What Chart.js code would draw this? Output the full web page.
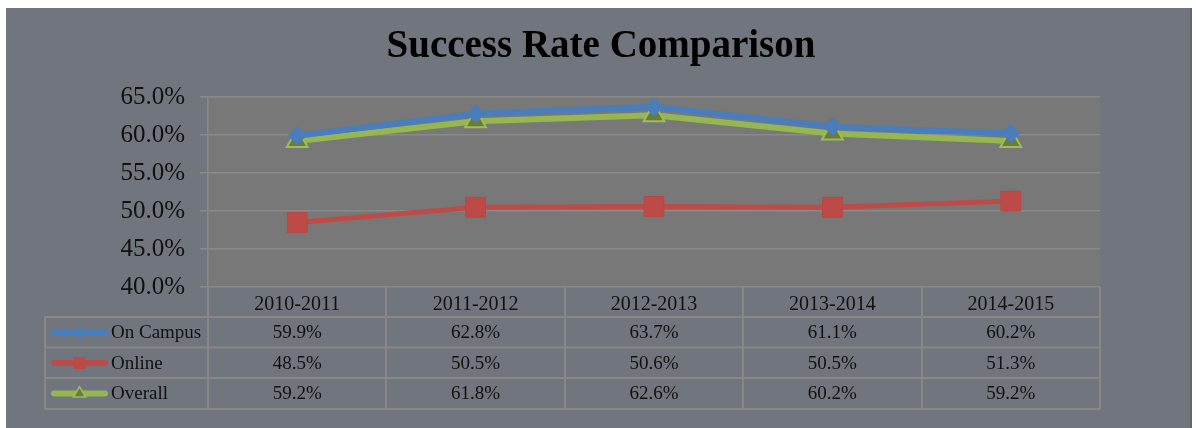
<!DOCTYPE html>
<html>
<head>
<meta charset="utf-8">
<script src="https://cdn.jsdelivr.net/npm/chart.js@4/dist/chart.umd.min.js"></script>
<style>
  html, body { margin: 0; padding: 0; background: #ffffff; }
  canvas { display: block; }
</style>
</head>
<body>
<canvas id="chart" width="1196" height="428"></canvas>
<script>
// Academic years shown along the category axis
const categories = ['2010-2011', '2011-2012', '2012-2013', '2013-2014', '2014-2015'];

// Success rates (percent) per delivery mode
const onCampus = [59.9, 62.8, 63.7, 61.1, 60.2];
const online   = [48.5, 50.5, 50.6, 50.5, 51.3];
const overall  = [59.2, 61.8, 62.6, 60.2, 59.2];

// Value axis range
const yMin = 40;
const yMax = 65;
const yStep = 5;

const seriesNames = ['On Campus', 'Online', 'Overall'];
const chartTitle = 'Success Rate Comparison';

const SERIF = "'Liberation Serif', 'Times New Roman', serif";
const GRID = '#8a8a8a';
const TABLE_LINE = '#878787';

const fmt = v => v.toFixed(1) + '%';

// Background panel, plot-area fill and the title centred on the panel
const panelPlugin = {
  id: 'panel',
  beforeDraw(chart) {
    const { ctx, chartArea: a, width, height } = chart;
    ctx.save();
    ctx.fillStyle = '#ffffff';
    ctx.fillRect(0, 0, width, height);
    ctx.fillStyle = '#71757d';
    ctx.fillRect(6, 8, 1186, height - 8);
    ctx.fillStyle = '#62666d';
    ctx.fillRect(1190, 8, 2, height - 8);
    ctx.fillStyle = '#787878';
    ctx.fillRect(a.left, a.top, a.right - a.left, a.bottom - a.top);

    ctx.fillStyle = '#000000';
    ctx.font = 'bold 39px ' + SERIF;
    ctx.textAlign = 'center';
    ctx.textBaseline = 'alphabetic';
    ctx.fillText(chartTitle, 601, 57);
    ctx.restore();
  }
};

function drawKeyMarker(ctx, style, x, y, ds) {
  ctx.save();
  ctx.fillStyle = ds.pointBackgroundColor;
  ctx.strokeStyle = ds.pointBorderColor;
  ctx.lineWidth = 1.5;
  ctx.beginPath();
  if (style === 'rectRot') {
    const r = 6;
    ctx.moveTo(x, y - r); ctx.lineTo(x + r, y); ctx.lineTo(x, y + r); ctx.lineTo(x - r, y);
    ctx.closePath(); ctx.fill();
  } else if (style === 'rect') {
    const s = 6;
    ctx.rect(x - s, y - s, 2 * s, 2 * s); ctx.fill();
  } else {
    const r = 7;
    ctx.moveTo(x, y - r);
    ctx.lineTo(x + r * 0.866, y + r * 0.5);
    ctx.lineTo(x - r * 0.866, y + r * 0.5);
    ctx.closePath(); ctx.fill(); ctx.stroke();
  }
  ctx.restore();
}

// Data table under the category axis, with a legend key per row
const tablePlugin = {
  id: 'dataTable',
  afterDraw(chart) {
    const { ctx, chartArea: a, scales } = chart;
    const xs = scales.x;
    const n = categories.length;
    const colW = (a.right - a.left) / n;
    const tableLeft = 45;
    const headerTop = a.bottom;
    const rowTops = [headerTop + 30, headerTop + 60.5, headerTop + 91];
    const tableBottom = headerTop + 122;

    ctx.save();
    ctx.strokeStyle = TABLE_LINE;
    ctx.lineWidth = 2;
    ctx.beginPath();
    for (let i = 0; i <= n; i++) {
      const x = Math.round(a.left + i * colW);
      ctx.moveTo(x, headerTop);
      ctx.lineTo(x, tableBottom);
    }
    ctx.moveTo(tableLeft, rowTops[0]);
    ctx.lineTo(tableLeft, tableBottom);
    [...rowTops, tableBottom].forEach(y => {
      ctx.moveTo(tableLeft, y);
      ctx.lineTo(a.right, y);
    });
    ctx.stroke();

    ctx.font = '19px ' + SERIF;
    ctx.fillStyle = '#111111';
    ctx.textBaseline = 'middle';
    chart.data.datasets.forEach((ds, r) => {
      const yMid = rowTops[r] + 15.5;
      ctx.save();
      ctx.strokeStyle = ds.borderColor;
      ctx.lineWidth = 6;
      ctx.lineCap = 'round';
      ctx.beginPath();
      ctx.moveTo(54, yMid);
      ctx.lineTo(105, yMid);
      ctx.stroke();
      ctx.restore();
      drawKeyMarker(ctx, ds.pointStyle, 79.5, yMid, ds);
      ctx.textAlign = 'left';
      ctx.fillText(ds.label, 111, yMid + 1);
      ctx.textAlign = 'center';
      ds.data.forEach((v, i) => {
        ctx.fillText(fmt(v), xs.getPixelForValue(i), yMid + 1);
      });
    });
    ctx.restore();
  }
};

new Chart(document.getElementById('chart'), {
  type: 'line',
  data: {
    labels: categories,
    datasets: [
      {
        label: seriesNames[0],
        data: onCampus,
        borderColor: '#4a7dbb',
        borderWidth: 6,
        pointStyle: 'rectRot',
        pointRadius: 9,
        pointBackgroundColor: '#4a7dbb',
        pointBorderColor: '#4a7dbb',
        pointBorderWidth: 1
      },
      {
        label: seriesNames[1],
        data: online,
        borderColor: '#bd4b48',
        borderWidth: 5,
        pointStyle: 'rect',
        pointRadius: 14,
        pointBackgroundColor: '#bd4a47',
        pointBorderColor: '#b84744',
        pointBorderWidth: 1
      },
      {
        label: seriesNames[2],
        data: overall,
        borderColor: '#95b651',
        borderWidth: 6,
        pointStyle: 'triangle',
        pointRadius: 12,
        pointBackgroundColor: '#6a7c39',
        pointBorderColor: '#9cbd57',
        pointBorderWidth: 2
      }
    ]
  },
  options: {
    responsive: false,
    animation: false,
    layout: { padding: { left: 0, right: 96, top: 97, bottom: 111 } },
    plugins: {
      legend: { display: false },
      tooltip: { enabled: false },
      title: { display: false }
    },
    scales: {
      x: {
        offset: true,
        grid: { display: false, drawTicks: false },
        border: { display: false },
        ticks: {
          color: '#111111',
          font: { family: SERIF, size: 20 },
          padding: 6,
          maxRotation: 0,
          autoSkip: false
        },
        afterFit(scale) { scale.height = 30; }
      },
      y: {
        min: yMin,
        max: yMax,
        grid: { color: GRID, lineWidth: 1.5, tickLength: 8, drawTicks: true },
        border: { display: true, color: GRID, width: 1.5 },
        ticks: {
          stepSize: yStep,
          color: '#111111',
          font: { family: SERIF, size: 25 },
          padding: 15,
          callback: v => fmt(v)
        },
        afterFit(scale) { scale.width = 208; }
      }
    }
  },
  plugins: [panelPlugin, tablePlugin]
});
</script>
</body>
</html>
